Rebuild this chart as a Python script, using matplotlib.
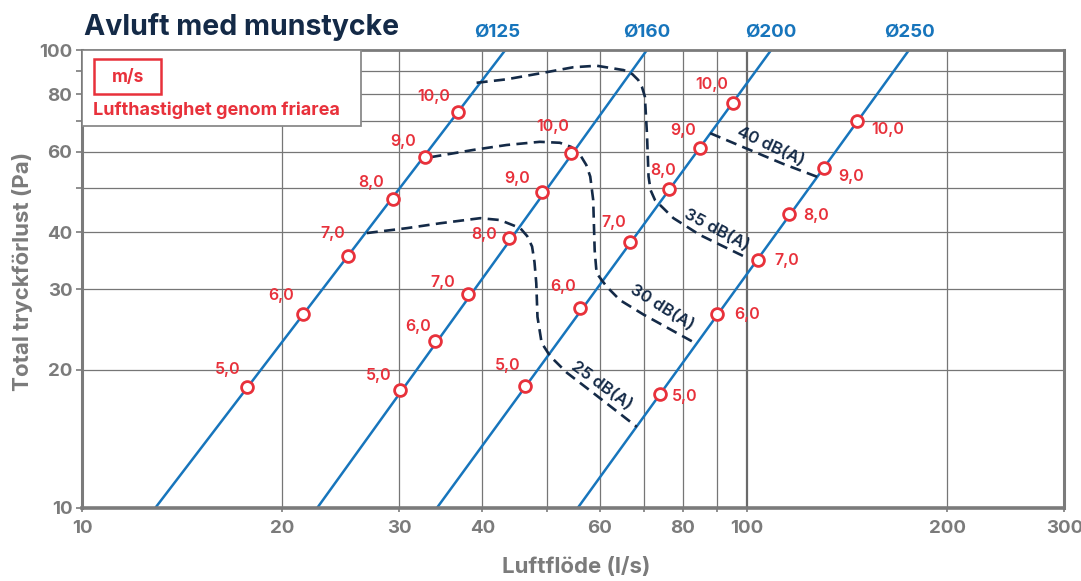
import matplotlib

matplotlib.use("Agg")
import matplotlib.pyplot as plt
from matplotlib.patches import Rectangle
from matplotlib.ticker import FixedLocator, NullFormatter

plt.rcParams["font.family"] = ["Inter", "DejaVu Sans"]

BLUE = "#1775bc"
RED = "#e8313b"
NAVY = "#142a47"
GRAY = "#7b7b7b"
GRID = "#767676"

# duct lines: flow (l/s) where each line crosses 10 Pa and 100 Pa
ducts = ["Ø125", "Ø160", "Ø200", "Ø250"]
duct_q_10pa = [12.9, 22.6, 34.2, 55.7]
duct_q_100pa = [43.3, 70.7, 108.7, 175.2]

# air velocity markers (m/s) along each duct line
vel_labels = ["5,0", "6,0", "7,0", "8,0", "9,0", "10,0"]
q_125 = [17.7, 21.5, 25.1, 29.3, 32.8, 36.7]
p_125 = [18.3, 26.5, 35.4, 47.2, 58.4, 73.1]
q_160 = [30.1, 34.0, 38.0, 43.9, 49.2, 54.4]
p_160 = [18.1, 23.1, 29.3, 38.9, 48.9, 59.6]
q_200 = [46.4, 56.1, 66.7, 76.2, 85.0, 95.1]
p_200 = [18.4, 27.3, 38.1, 49.6, 61.2, 76.7]
q_250 = [74.0, 90.2, 104.0, 115.8, 130.7, 146.5]
p_250 = [17.7, 26.5, 34.7, 43.7, 55.1, 69.9]

# sound level curves
db_labels = ["25 dB(A)", "30 dB(A)", "35 dB(A)", "40 dB(A)"]
q_25db = [26.8, 30.8, 34.5, 39.7, 42.5, 45.6, 46.7, 47.5, 47.9, 48.2, 48.4, 49.1, 50.6, 53.6, 58.7, 68.3]
p_25db = [39.8, 40.8, 41.8, 42.9, 42.5, 40.8, 39.2, 37.2, 34.4, 30.9, 26.1, 22.9, 21.4, 19.7, 17.8, 15.0]
q_30db = [33.4, 38.8, 43.5, 48.8, 52.3, 54.4, 56.1, 57.3, 58.1, 58.7, 59.0, 59.4, 61.5, 64.4, 69.9, 83.0]
p_30db = [58.3, 60.5, 62.0, 63.0, 62.7, 61.4, 59.0, 56.1, 52.9, 47.0, 36.5, 32.5, 30.4, 28.4, 26.4, 23.0]
q_35db = [39.2, 43.5, 48.8, 54.8, 59.4, 65.2, 67.2, 68.6, 69.5, 70.2, 70.7, 71.1, 71.6, 72.7, 77.5, 85.0, 99.3]
p_35db = [84.8, 86.3, 88.9, 91.7, 92.4, 90.4, 88.6, 86.0, 83.0, 79.1, 65.8, 52.9, 49.4, 47.0, 42.9, 39.4, 35.3]
q_40db = [88.0, 99.3, 112.9, 128.0]
p_40db = [65.8, 61.1, 56.5, 52.7]
db_label_q = [60.5, 74.4, 90.0, 108.3]
db_label_p = [18.5, 27.3, 40.4, 61.5]

x_ticks = [10, 20, 30, 40, 60, 80, 100, 200, 300]
y_ticks = [10, 20, 30, 40, 60, 80, 100]
x_grid = [20, 30, 40, 50, 60, 70, 80, 90, 200]
y_grid = [20, 30, 40, 50, 60, 70, 80, 90]

# label offsets in pixels (layout only)
label_offsets = [
    [(-19, 18), (-22, 18), (-15, 23), (-21, 17), (-22, 15), (-24, 16)],
    [(-22, 14), (-17, 15), (-25, 11), (-25, 3), (-25, 14), (-19, 26)],
    [(-18, 21), (-17, 21), (-16, 19), (-5, 19), (-17, 17), (-21, 18)],
    [(25, -2), (30, -1), (28, 0), (27, -1), (27, -8), (30, -8)],
]
db_rot = [-36, -32, -28, -25]

fig = plt.figure(figsize=(10.81, 5.81), dpi=100)
ax = fig.add_axes([0.0759, 0.1265, 0.9087, 0.7874])
ax.set_xscale("log")
ax.set_yscale("log")
ax.set_xlim(10, 300)
ax.set_ylim(10, 100)

for v in x_grid:
    ax.axvline(v, color=GRID, lw=0.9, zorder=0.5)
ax.axvline(100, color="#6a6a6a", lw=1.6, zorder=0.5)
for v in y_grid:
    ax.axhline(v, color=GRID, lw=0.9, zorder=0.5)

for name, q0, q1 in zip(ducts, duct_q_10pa, duct_q_100pa):
    ax.plot([q0, q1], [10, 100], color=BLUE, lw=1.8, zorder=2, solid_capstyle="butt")

curves = [(q_25db, p_25db), (q_30db, p_30db), (q_35db, p_35db), (q_40db, p_40db)]
for (qs, ps) in curves:
    ax.plot(qs, ps, color=NAVY, lw=1.9, dashes=(4.2, 2.4), zorder=3)
for txt, lq, lp, rot in zip(db_labels, db_label_q, db_label_p, db_rot):
    ax.text(lq, lp, txt, color=NAVY, fontsize=12, fontweight="semibold",
            rotation=rot, rotation_mode="anchor", ha="center", va="center", zorder=6)

series = [(q_125, p_125), (q_160, p_160), (q_200, p_200), (q_250, p_250)]
for (qs, ps), offs in zip(series, label_offsets):
    ax.plot(qs, ps, "o", ms=8.5, mfc="white", mec=RED, mew=2.0, zorder=5)
    for q, p, lab, off in zip(qs, ps, vel_labels, offs):
        ax.annotate(lab, (q, p), xytext=off, textcoords="offset pixels",
                    ha="center", va="center", color=RED, fontsize=11.5,
                    fontweight="semibold", zorder=6)

for i, (name, q1) in enumerate(zip(ducts, duct_q_100pa)):
    ax.annotate(name, (q1, 100), xytext=(-8 if i == 0 else 0, 18),
                textcoords="offset pixels", ha="center", va="center",
                color=BLUE, fontsize=13.5, fontweight="bold", annotation_clip=False)

# legend box
ax.add_patch(Rectangle((0, 0.8345), 0.284, 0.1655, transform=ax.transAxes,
                       facecolor="white", edgecolor="#8a8a8a", lw=1.3, zorder=4))
ax.add_patch(Rectangle((0.0125, 0.9032), 0.0679, 0.0772, transform=ax.transAxes,
                       facecolor="none", edgecolor=RED, lw=1.8, zorder=4.5))
ax.text(0.0465, 0.9403, "m/s", transform=ax.transAxes, color=RED, fontsize=12.5,
        fontweight="bold", ha="center", va="center", zorder=5)
ax.text(0.0109, 0.8689, "Lufthastighet genom friarea", transform=ax.transAxes,
        color=RED, fontsize=13, fontweight="bold", ha="left", va="center", zorder=5)

ax.xaxis.set_major_locator(FixedLocator(x_ticks))
ax.xaxis.set_minor_locator(FixedLocator([50, 70, 90]))
ax.xaxis.set_minor_formatter(NullFormatter())
ax.set_xticklabels([str(t) for t in x_ticks])
ax.yaxis.set_major_locator(FixedLocator(y_ticks))
ax.yaxis.set_minor_locator(FixedLocator([50, 70, 90]))
ax.yaxis.set_minor_formatter(NullFormatter())
ax.set_yticklabels([str(t) for t in y_ticks])

ax.tick_params(axis="both", which="both", colors=GRAY, labelcolor=GRAY, width=1.2)
ax.tick_params(axis="x", which="both", length=3, pad=6, labelsize=13.5)
ax.tick_params(axis="y", which="both", length=4, pad=3, labelsize=13.5)
for lab in ax.get_xticklabels() + ax.get_yticklabels():
    lab.set_fontweight("bold")

for side, w in [("left", 2.2), ("bottom", 2.6), ("right", 2.2), ("top", 2.0)]:
    ax.spines[side].set_color(GRAY)
    ax.spines[side].set_linewidth(w)

ax.set_xlabel("Luftflöde (l/s)", fontsize=16, fontweight="bold", color=GRAY)
ax.xaxis.set_label_coords(0.503, -0.108)
ax.set_ylabel("Total tryckförlust (Pa)", fontsize=16, fontweight="bold", color=GRAY)
ax.yaxis.set_label_coords(-0.05, 0.517)

fig.text(0.0777, 0.9398, "Avluft med munstycke", fontsize=20.5, fontweight="bold",
         color=NAVY, ha="left", va="baseline")

fig.savefig("out.png", dpi=100)
plt.close(fig)
